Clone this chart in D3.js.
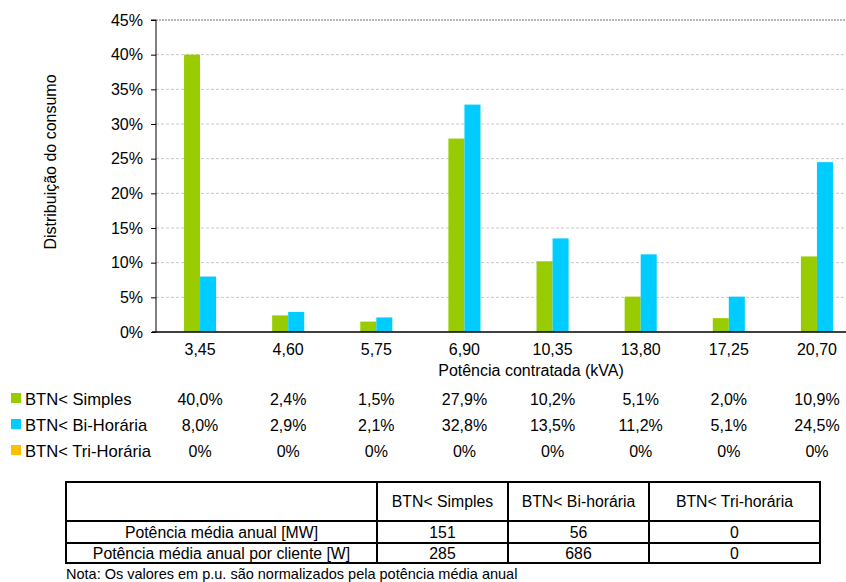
<!DOCTYPE html>
<html>
<head>
<meta charset="utf-8">
<script src="https://cdn.jsdelivr.net/npm/d3@7"></script>
<style>
  html, body { margin: 0; padding: 0; background: #fff; overflow: hidden; }
  svg { display: block; font-family: "Liberation Sans", Arial, sans-serif; }
</style>
</head>
<body>
<svg id="chart" width="846" height="582"></svg>
<script>
// Contracted power classes (kVA)
const categories = ["3,45", "4,60", "5,75", "6,90", "10,35", "13,80", "17,25", "20,70"];
// Consumption distribution per tariff option (%)
const simples = [40.0, 2.4, 1.5, 27.9, 10.2, 5.1, 2.0, 10.9];
const biHoraria = [8.0, 2.9, 2.1, 32.8, 13.5, 11.2, 5.1, 24.5];
const triHoraria = [0, 0, 0, 0, 0, 0, 0, 0];
const seriesNames = ["BTN< Simples", "BTN< Bi-Horária", "BTN< Tri-Horária"];
const seriesColors = ["#99cc00", "#00ccff", "#ffc000"];
const yTicks = [0, 5, 10, 15, 20, 25, 30, 35, 40, 45];
// Label strings as printed in the data table
const simplesLabels = ["40,0%", "2,4%", "1,5%", "27,9%", "10,2%", "5,1%", "2,0%", "10,9%"];
const biLabels = ["8,0%", "2,9%", "2,1%", "32,8%", "13,5%", "11,2%", "5,1%", "24,5%"];
const triLabels = ["0%", "0%", "0%", "0%", "0%", "0%", "0%", "0%"];

// Summary table
const tableHeader = ["", "BTN< Simples", "BTN< Bi-horária", "BTN< Tri-horária"];
const tableRows = [
  ["Potência média anual [MW]", "151", "56", "0"],
  ["Potência média anual por cliente [W]", "285", "686", "0"]
];
const noteText = "Nota: Os valores em p.u. são normalizados pela potência média anual";

const svg = d3.select("#chart");
const plotLeft = 156, plotRight = 861, plotTop = 20, plotBottom = 332;
const FS = 16;

const x = d3.scaleBand().domain(categories).range([plotLeft, plotRight]).padding(0);
const y = d3.scaleLinear().domain([0, 45]).range([plotBottom, plotTop]);
const barW = x.bandwidth() * 0.182;
const cx = c => x(c) + x.bandwidth() / 2;

// Gridlines
svg.append("g").selectAll("line").data(yTicks.filter(d => d > 0)).join("line")
  .attr("x1", plotLeft).attr("x2", 846)
  .attr("y1", d => y(d)).attr("y2", d => y(d))
  .attr("stroke", d => d === 45 ? "#a0a0a0" : "#c8c8c8")
  .attr("stroke-width", d => d === 45 ? 1.5 : 1)
  .attr("stroke-dasharray", d => d === 45 ? "2,1" : "3,2");

// Bars
const series = [simples, biHoraria, triHoraria];
series.forEach((vals, si) => {
  if (si === 2) return; // all zeros
  svg.append("g").selectAll("rect").data(vals).join("rect")
    .attr("x", (d, i) => cx(categories[i]) - barW + si * barW)
    .attr("y", d => y(d))
    .attr("width", barW)
    .attr("height", d => y(0) - y(d))
    .attr("fill", seriesColors[si]);
});

// Y axis
const yAxis = d3.axisLeft(y).tickValues(yTicks).tickSize(5).tickFormat(d => d + "%");
const gy = svg.append("g").attr("transform", `translate(${plotLeft},0)`).call(yAxis);
gy.attr("font-family", null).attr("font-size", null);
gy.select(".domain").attr("stroke", "#000").attr("d", `M-5,${plotTop}H0V${plotBottom}`);
gy.selectAll(".tick line").attr("stroke", "#000");
gy.selectAll(".tick text").attr("font-size", FS).attr("fill", "#000").attr("x", -13);

// X axis
svg.append("line").attr("x1", plotLeft - 4).attr("x2", 846)
  .attr("y1", plotBottom).attr("y2", plotBottom).attr("stroke", "#000").attr("stroke-width", 1.5);
svg.append("g").selectAll("text").data(categories).join("text")
  .attr("x", d => cx(d)).attr("y", 355)
  .attr("text-anchor", "middle").attr("font-size", FS).text(d => d);

svg.append("text").attr("x", 531).attr("y", 376).attr("text-anchor", "middle")
  .attr("font-size", FS).text("Potência contratada (kVA)");

svg.append("text").attr("transform", "translate(56,162) rotate(-90)")
  .attr("text-anchor", "middle").attr("font-size", FS).text("Distribuição do consumo");

// Data table under the axis
const labelRows = [simplesLabels, biLabels, triLabels];
const rowY = [405, 431, 457];
labelRows.forEach((labels, ri) => {
  svg.append("rect").attr("x", 11).attr("y", rowY[ri] - 12).attr("width", 10).attr("height", 10)
    .attr("fill", seriesColors[ri]);
  svg.append("text").attr("x", 25).attr("y", rowY[ri]).attr("font-size", 16.6).text(seriesNames[ri]);
  svg.append("g").selectAll("text").data(labels).join("text")
    .attr("x", (d, i) => cx(categories[i])).attr("y", rowY[ri])
    .attr("text-anchor", "middle").attr("font-size", FS).text(d => d);
});

// Summary table
const colX = [66, 377, 508, 649, 820];
const rowYs = [482, 521, 543, 563];
const tg = svg.append("g");
tg.append("rect").attr("x", colX[0]).attr("y", rowYs[0])
  .attr("width", colX[4] - colX[0]).attr("height", rowYs[3] - rowYs[0])
  .attr("fill", "none").attr("stroke", "#000").attr("stroke-width", 2);
colX.slice(1, 4).forEach(px => tg.append("line").attr("x1", px).attr("x2", px)
  .attr("y1", rowYs[0]).attr("y2", rowYs[3]).attr("stroke", "#000").attr("stroke-width", 2));
rowYs.slice(1, 3).forEach(ry => tg.append("line").attr("x1", colX[0]).attr("x2", colX[4])
  .attr("y1", ry).attr("y2", ry).attr("stroke", "#000").attr("stroke-width", 2));
[tableHeader, ...tableRows].forEach((row, ri) => {
  row.forEach((cell, ci) => {
    tg.append("text").attr("x", (colX[ci] + colX[ci + 1]) / 2)
      .attr("y", (rowYs[ri] + rowYs[ri + 1]) / 2 + 5.5)
      .attr("text-anchor", "middle").attr("font-size", 15.8).text(cell);
  });
});
svg.append("text").attr("x", 66).attr("y", 579).attr("font-size", 14.5).text(noteText);
</script>
</body>
</html>
